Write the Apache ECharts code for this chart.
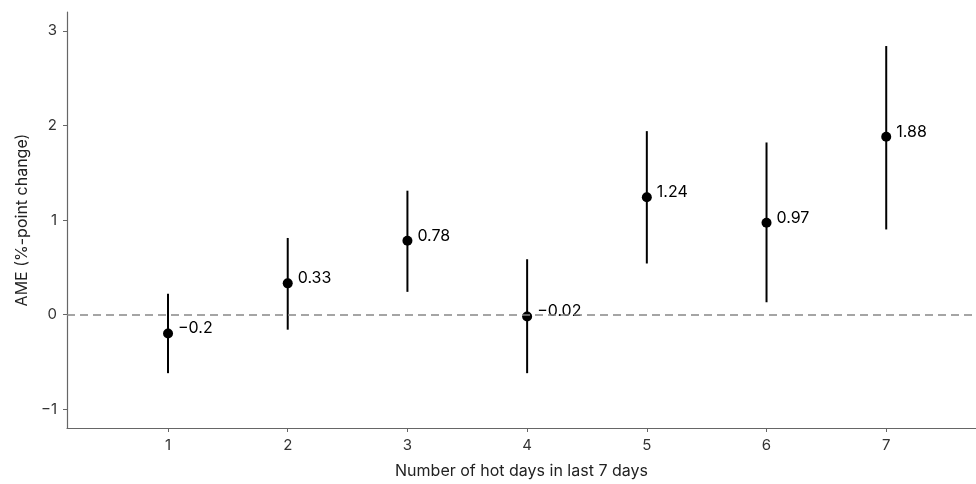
<!DOCTYPE html>
<html>
<head>
<meta charset="utf-8">
<script src="https://cdn.jsdelivr.net/npm/echarts@6/dist/echarts.min.js"></script>
<style>
  html, body { margin: 0; padding: 0; background: #fff; }
  #chart { width: 976px; height: 484px; }
</style>
</head>
<body>
<div id="chart"></div>
<script>
// hot days in last 7 days
const days = [1, 2, 3, 4, 5, 6, 7];
const estimates = [-0.2, 0.33, 0.78, -0.02, 1.24, 0.97, 1.88];
const lower = [-0.62, -0.16, 0.24, -0.62, 0.54, 0.13, 0.90];
const upper = [0.22, 0.81, 1.31, 0.585, 1.94, 1.82, 2.84];
const yTicks = [-1, 0, 1, 2, 3];

const fmt = v => (v < 0 ? '\u2212' + Math.abs(v) : String(v));

const chart = echarts.init(document.getElementById('chart'));

const option = {
    animation: false,
    textStyle: { fontFamily: 'Inter' },
    grid: { left: 67, right: 0, top: 12, bottom: 54 },
    xAxis: {
        type: 'value',
        min: 0.156,
        max: 7.75,
        name: 'Number of hot days in last 7 days',
        nameLocation: 'middle',
        nameGap: 35,
        nameTextStyle: { fontSize: 16, color: '#222' },
        splitLine: { show: false },
        axisLine: { onZero: false, lineStyle: { color: '#666', width: 1.2 } },
        axisTick: { customValues: days, length: 4, lineStyle: { color: '#666' } },
        axisLabel: { customValues: days, fontSize: 15, color: '#333', margin: 10 }
    },
    yAxis: {
        type: 'value',
        min: -1.2,
        max: 3.2,
        name: 'AME (%-point change)',
        nameLocation: 'middle',
        nameGap: 37,
        nameTextStyle: { fontSize: 16, color: '#222' },
        splitLine: { show: false },
        axisLine: { show: true, onZero: false, lineStyle: { color: '#666', width: 1.2 } },
        axisTick: { show: true, customValues: yTicks, length: 4, lineStyle: { color: '#666' } },
        axisLabel: { customValues: yTicks, fontSize: 15, color: '#333', margin: 10, formatter: fmt }
    },
    series: [
        {
            type: 'custom',
            data: days.map((d, i) => [d, lower[i], upper[i]]),
            renderItem: (params, api) => {
                const p1 = api.coord([api.value(0), api.value(1)]);
                const p2 = api.coord([api.value(0), api.value(2)]);
                return {
                    type: 'line',
                    shape: { x1: p1[0], y1: p1[1], x2: p2[0], y2: p2[1] },
                    style: { stroke: '#000', lineWidth: 2 }
                };
            },
            z: 2
        },
        {
            type: 'scatter',
            data: days.map((d, i) => [d, estimates[i]]),
            symbolSize: 10,
            itemStyle: { color: '#000', opacity: 1 },
            label: {
                show: true,
                position: 'right',
                distance: 5,
                offset: [0, -5],
                fontSize: 16,
                color: '#000',
                formatter: p => fmt(p.value[1])
            },
            markLine: {
                silent: true,
                symbol: 'none',
                label: { show: false },
                lineStyle: { color: '#888', type: [8, 5], width: 1.5 },
                data: [{ yAxis: 0 }]
            },
            z: 3
        }
    ]
};

option && chart.setOption(option);
</script>
</body>
</html>
